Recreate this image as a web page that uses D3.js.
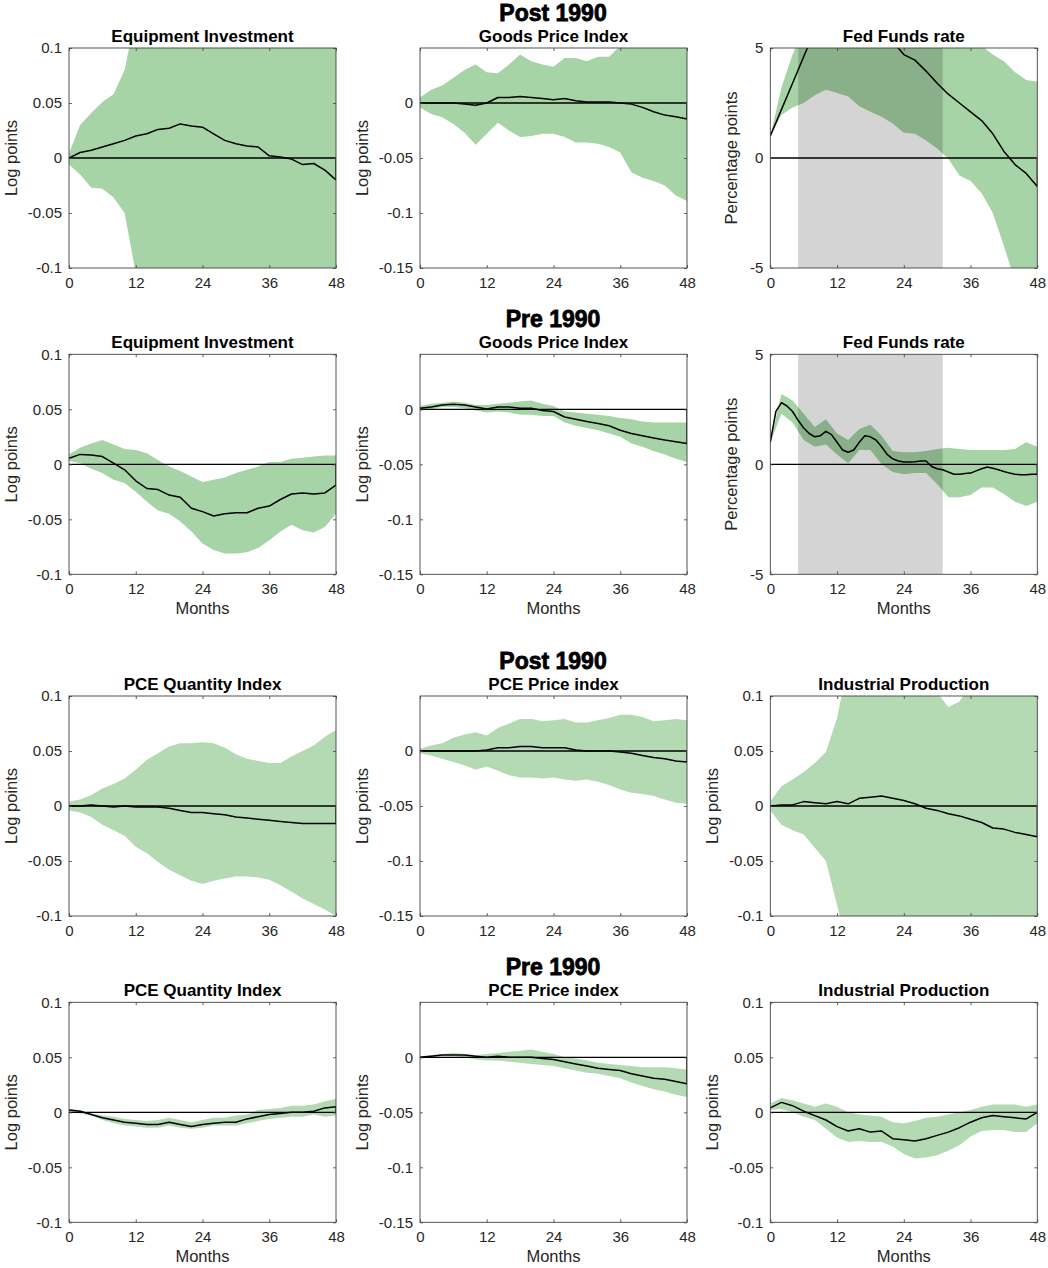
<!DOCTYPE html>
<html>
<head>
<meta charset="utf-8">
<script src="https://cdn.jsdelivr.net/npm/d3@7"></script>
<style>
  body { margin: 0; background: #fff; }
  text { font-family: "Liberation Sans", Arial, Helvetica, sans-serif; }
</style>
</head>
<body>
<svg id="chart" width="1048" height="1268"></svg>
<script>
// month grids
var months1 = d3.range(0, 49, 1);
var months2 = d3.range(0, 49, 2);

// ---- Post 1990, Equipment Investment
var eqPostLine = [0, .005, .007, .01, .013, .016, .02, .022, .026, .027, .031, .029, .028, .022, .016, .013, .011, .01, .002, .001, -.001, -.006, -.005, -.011, -.02];
var eqPostHi = [.004, .03, .041, .051, .058, .08, .13, .15, .15, .15, .15, .15, .15, .15, .15, .15, .15, .15, .15, .15, .15, .15, .15, .15, .15];
var eqPostLo = [-.006, -.015, -.027, -.028, -.036, -.05, -.105, -.15, -.15, -.15, -.15, -.15, -.15, -.15, -.15, -.15, -.15, -.15, -.15, -.15, -.15, -.15, -.15, -.15, -.15];

// ---- Post 1990, Goods Price Index
var goodsPostLine = [0, 0, 0, 0, -.001, -.002, 0, .005, .005, .006, .005, .004, .003, .004, .002, .001, .001, .001, 0, -.001, -.004, -.008, -.011, -.0125, -.0145];
var goodsPostHi = [.005, .012, .016, .023, .03, .035, .028, .027, .035, .044, .038, .035, .033, .041, .041, .038, .042, .042, .052, .06, .07, .08, .08, .08, .08];
var goodsPostLo = [-.004, -.01, -.013, -.019, -.027, -.038, -.028, -.018, -.025, -.031, -.03, -.028, -.028, -.031, -.036, -.036, -.037, -.04, -.045, -.063, -.068, -.071, -.075, -.084, -.089];

// ---- Post 1990, Fed Funds rate
var fedPostLine = [1, 2.2, 3.4, 4.6, 5.8, 6.5, 6.8, 6.8, 6.5, 6.2, 5.8, 5.3, 4.7, 4.45, 3.95, 3.4, 2.9, 2.5, 2.1, 1.7, 1.1, 0.3, -0.3, -0.7, -1.3];
var fedPostHi = [1, 3.2, 4.7, 6, 7, 7.5, 8, 8, 8, 8, 8, 8, 8, 7.5, 7, 6.5, 6.2, 6, 5.8, 5.1, 4.7, 4.4, 3.9, 3.55, 3.47];
var fedPostLo = [1, 1.95, 2.3, 2.5, 2.85, 3.1, 2.95, 2.8, 2.35, 2.1, 1.87, 1.57, 1.15, 1.1, 0.8, 0.43, -0.03, -0.8, -1.05, -1.6, -2.5, -4.0, -5.6, -6, -6.5];

// ---- Pre 1990, Equipment Investment
var eqPreLine = [.0055, .009, .0085, .007, .001, -.005, -.015, -.022, -.023, -.028, -.03, -.04, -.043, -.047, -.045, -.044, -.044, -.04, -.038, -.032, -.027, -.026, -.027, -.026, -.019];
var eqPreHi = [.009, .015, .019, .022, .018, .014, .013, .01, .004, -.002, -.006, -.011, -.016, -.014, -.012, -.008, -.005, -.002, .002, .002, .005, .006, .007, .008, .008];
var eqPreLo = [.003, .001, -.004, -.008, -.014, -.017, -.025, -.034, -.042, -.045, -.052, -.061, -.072, -.078, -.081, -.081, -.08, -.076, -.069, -.061, -.055, -.06, -.062, -.057, -.045];

// ---- Pre 1990, Goods Price Index
var goodsPreLine = [.001, .002, .004, .0045, .004, .002, .0003, .002, .002, .001, .001, -.001, -.002, -.007, -.009, -.011, -.013, -.015, -.019, -.022, -.024, -.026, -.028, -.0295, -.031];
var goodsPreHi = [.003, .005, .006, .007, .006, .004, .004, .005, .006, .007, .008, .005, .003, -.002, -.003, -.004, -.005, -.006, -.008, -.009, -.011, -.012, -.012, -.012, -.012];
var goodsPreLo = [-.001, 0, .002, .002, .001, -.001, -.003, -.002, -.003, -.005, -.005, -.006, -.006, -.012, -.015, -.017, -.019, -.022, -.025, -.031, -.034, -.038, -.041, -.045, -.048];

// ---- Pre 1990, Fed Funds rate (monthly line)
var fedPreLine = [1.0, 2.4, 2.8, 2.65, 2.4, 2.0, 1.65, 1.4, 1.25, 1.3,
                  1.5, 1.35, 1.0, 0.65, 0.55, 0.65, 1.0, 1.3, 1.25, 1.1,
                  0.8, 0.45, 0.25, 0.15, 0.1, 0.1, 0.12, 0.15, 0.15, -0.1,
                  -0.2, -0.25, -0.35, -0.45, -0.45, -0.42, -0.4, -0.3, -0.2, -0.12,
                  -0.18, -0.25, -0.33, -0.4, -0.45, -0.48, -0.48, -0.45, -0.45];
var fedPreHi = [1.0, 3.2, 2.9, 2.3, 1.7, 2.05, 1.4, 1.1, 1.6, 1.8, 1.3, 0.6, 0.55, 0.55, 0.6, 0.7, 0.75, 0.7, 0.65, 0.65, 0.65, 0.65, 0.7, 1.0, 0.8];
var fedPreLo = [1.0, 2.3, 1.9, 1.1, 0.8, 0.9, 0.45, 0.05, 0.65, 0.65, 0.0, -0.35, -0.45, -0.4, -0.4, -0.9, -1.5, -1.5, -1.4, -1.05, -1.05, -1.35, -1.7, -1.9, -1.7];

// ---- Post 1990, PCE Quantity Index
var pceQPostLine = [0, 0, .001, 0, -.001, 0, -.001, -.001, -.001, -.002, -.004, -.006, -.006, -.007, -.008, -.01, -.011, -.012, -.013, -.014, -.015, -.016, -.016, -.016, -.016];
var pceQPostHi = [.004, .006, .01, .016, .02, .025, .033, .042, .048, .054, .057, .057, .058, .057, .053, .047, .043, .041, .039, .039, .045, .05, .055, .063, .069];
var pceQPostLo = [-.004, -.006, -.01, -.017, -.022, -.027, -.037, -.043, -.051, -.058, -.063, -.068, -.071, -.068, -.066, -.064, -.064, -.065, -.067, -.072, -.078, -.084, -.089, -.094, -.1];

// ---- Post 1990, PCE Price index
var pcePPostLine = [0, 0, 0, 0, 0, 0, .001, .003, .003, .004, .004, .003, .003, .003, .001, 0, 0, 0, -.001, -.002, -.004, -.006, -.007, -.009, -.01];
var pcePPostHi = [.002, .005, .007, .012, .015, .017, .014, .021, .025, .029, .029, .027, .028, .029, .026, .026, .028, .03, .033, .033, .031, .027, .028, .029, .028];
var pcePPostLo = [-.002, -.004, -.007, -.01, -.013, -.017, -.014, -.018, -.022, -.024, -.024, -.025, -.024, -.026, -.027, -.026, -.028, -.031, -.035, -.038, -.039, -.041, -.044, -.047, -.048];

// ---- Post 1990, Industrial Production
var ipPostLine = [0, .001, .001, .004, .003, .002, .004, .002, .007, .008, .009, .007, .005, .002, -.002, -.004, -.007, -.009, -.012, -.015, -.02, -.021, -.024, -.026, -.028];
var ipPostHi = [.004, .018, .024, .031, .039, .049, .08, .13, .15, .15, .15, .15, .15, .15, .12, .103, .09, .095, .11, .13, .15, .15, .15, .15, .15];
var ipPostLo = [-.004, -.017, -.022, -.026, -.038, -.05, -.09, -.13, -.15, -.15, -.15, -.15, -.15, -.15, -.15, -.15, -.15, -.15, -.15, -.15, -.15, -.15, -.15, -.15, -.15];

// ---- Pre 1990, PCE Quantity Index
var pceQPreLine = [.002, .001, -.002, -.005, -.007, -.009, -.01, -.011, -.011, -.009, -.011, -.013, -.011, -.01, -.009, -.009, -.006, -.004, -.002, -.001, 0, 0, .001, .004, .005];
var pceQPreHi = [.003, .002, -.001, -.003, -.004, -.006, -.007, -.008, -.007, -.005, -.007, -.009, -.007, -.005, -.005, -.003, -.002, .002, .003, .004, .006, .006, .007, .01, .012];
var pceQPreLo = [0, -.001, -.003, -.007, -.01, -.012, -.013, -.014, -.014, -.012, -.014, -.015, -.014, -.012, -.012, -.012, -.01, -.008, -.006, -.005, -.004, -.004, -.002, -.004, -.003];

// ---- Pre 1990, PCE Price index
var pcePPreLine = [0, .001, .002, .002, .002, .001, 0, .001, 0, 0, 0, -.001, -.002, -.004, -.006, -.008, -.01, -.011, -.012, -.015, -.017, -.019, -.02, -.022, -.024];
var pcePPreHi = [.001, .002, .003, .004, .003, .002, .003, .004, .005, .006, .007, .005, .003, 0, -.001, -.003, -.005, -.006, -.007, -.008, -.009, -.009, -.009, -.01, -.011];
var pcePPreLo = [-.001, 0, .001, .001, 0, -.002, -.003, -.003, -.004, -.005, -.006, -.007, -.008, -.01, -.012, -.014, -.015, -.017, -.019, -.023, -.026, -.029, -.031, -.034, -.036];

// ---- Pre 1990, Industrial Production
var ipPreLine = [.004, .009, .006, .001, -.003, -.007, -.013, -.017, -.015, -.018, -.017, -.024, -.025, -.026, -.024, -.021, -.018, -.014, -.009, -.005, -.003, -.004, -.005, -.006, 0];
var ipPreHi = [.008, .013, .011, .008, .005, .008, .005, 0, -.002, -.003, -.004, -.009, -.01, -.008, -.005, -.004, -.002, 0, .002, .005, .007, .007, .007, .005, .007];
var ipPreLo = [.002, .003, 0, -.004, -.007, -.015, -.023, -.027, -.026, -.027, -.027, -.031, -.038, -.042, -.041, -.039, -.035, -.03, -.022, -.017, -.016, -.016, -.018, -.018, -.01];

// tick labels
var xTicks = [0, 12, 24, 36, 48];
var logTicks = [-0.1, -0.05, 0, 0.05, 0.1];
var priceTicks = [-0.15, -0.1, -0.05, 0];
var fedTicks = [-5, 0, 5];
var shadeMonths = [5, 31];

var headers = [
  {row: 0, text: "Post 1990"}, {row: 1, text: "Pre 1990"},
  {row: 2, text: "Post 1990"}, {row: 3, text: "Pre 1990"}
];

var panels = [
  {row: 0, col: 0, title: "Equipment Investment", kind: "log", line: eqPostLine, hi: eqPostHi, lo: eqPostLo},
  {row: 0, col: 1, title: "Goods Price Index", kind: "price", line: goodsPostLine, hi: goodsPostHi, lo: goodsPostLo},
  {row: 0, col: 2, title: "Fed Funds rate", kind: "fed", line: fedPostLine, hi: fedPostHi, lo: fedPostLo},
  {row: 1, col: 0, title: "Equipment Investment", kind: "log", line: eqPreLine, hi: eqPreHi, lo: eqPreLo, months: true},
  {row: 1, col: 1, title: "Goods Price Index", kind: "price", line: goodsPreLine, hi: goodsPreHi, lo: goodsPreLo, months: true},
  {row: 1, col: 2, title: "Fed Funds rate", kind: "fed", line: fedPreLine, lineX: months1, hi: fedPreHi, lo: fedPreLo, months: true},
  {row: 2, col: 0, title: "PCE Quantity Index", kind: "log", line: pceQPostLine, hi: pceQPostHi, lo: pceQPostLo},
  {row: 2, col: 1, title: "PCE Price index", kind: "price", line: pcePPostLine, hi: pcePPostHi, lo: pcePPostLo},
  {row: 2, col: 2, title: "Industrial Production", kind: "log", line: ipPostLine, hi: ipPostHi, lo: ipPostLo},
  {row: 3, col: 0, title: "PCE Quantity Index", kind: "log", line: pceQPreLine, hi: pceQPreHi, lo: pceQPreLo, months: true},
  {row: 3, col: 1, title: "PCE Price index", kind: "price", line: pcePPreLine, hi: pcePPreHi, lo: pcePPreLo, months: true},
  {row: 3, col: 2, title: "Industrial Production", kind: "log", line: ipPreLine, hi: ipPreHi, lo: ipPreLo, months: true}
];

// layout
var colLeft = [69, 420, 770.3];
var rowTop = [48, 354.3, 696, 1002.3];
var pw = 267, ph = 220;

var svg = d3.select("#chart");

headers.forEach(function(h) {
  svg.append("text")
    .attr("x", 553).attr("y", rowTop[h.row] - 27)
    .attr("text-anchor", "middle")
    .attr("font-size", 23).attr("font-weight", "bold")
    .attr("stroke", "#000").attr("stroke-width", 0.8)
    .text(h.text);
});

panels.forEach(function(p, i) {
  var left = colLeft[p.col], top = rowTop[p.row];
  var g = svg.append("g").attr("transform", "translate(" + left + "," + top + ")");

  var x = d3.scaleLinear().domain([0, 48]).range([0, pw]);
  var ydom = p.kind == "log" ? [-0.1, 0.1] : p.kind == "price" ? [-0.15, 0.05] : [-5, 5];
  var yticks = p.kind == "log" ? logTicks : p.kind == "price" ? priceTicks : fedTicks;
  var y = d3.scaleLinear().domain(ydom).range([ph, 0]);
  var green = p.row < 2 ? "#a6d4a6" : "#b3dab3";

  g.append("clipPath").attr("id", "clip" + i)
    .append("rect").attr("width", pw).attr("height", ph);
  var plot = g.append("g").attr("clip-path", "url(#clip" + i + ")");

  var band = months2.map(function(m, k) { return {m: m, lo: p.lo[k], hi: p.hi[k]}; });
  plot.append("path").datum(band)
    .attr("fill", green)
    .attr("d", d3.area().x(function(d) { return x(d.m); })
      .y0(function(d) { return y(d.lo); }).y1(function(d) { return y(d.hi); }));

  if (p.kind == "fed") {
    plot.append("rect")
      .attr("x", x(shadeMonths[0])).attr("width", x(shadeMonths[1]) - x(shadeMonths[0]))
      .attr("y", 0).attr("height", ph)
      .attr("fill", "#000").attr("fill-opacity", 0.17);
  }

  var lx = p.lineX || months2;
  var last = p.line[p.line.length - 1];
  // zero line plus closing segment at the last month
  plot.append("path")
    .datum([[0, 0], [48, 0], [48, last]])
    .attr("fill", "none").attr("stroke", "#000").attr("stroke-width", 1.3)
    .attr("d", d3.line().x(function(d) { return x(d[0]); }).y(function(d) { return y(d[1]); }));

  plot.append("path")
    .datum(p.line.map(function(v, k) { return [lx[k], v]; }))
    .attr("fill", "none").attr("stroke", "#000").attr("stroke-width", 1.5)
    .attr("stroke-linejoin", "round")
    .attr("d", d3.line().x(function(d) { return x(d[0]); }).y(function(d) { return y(d[1]); }));

  // axes: inward ticks on all four sides
  var axL = g.append("g").call(d3.axisLeft(y).tickValues(yticks).tickSize(-3).tickPadding(7)
    .tickFormat(function(v) { return String(v); }));
  var axR = g.append("g").attr("transform", "translate(" + pw + ",0)")
    .call(d3.axisRight(y).tickValues(yticks).tickSize(-3).tickFormat(""));
  var axB = g.append("g").attr("transform", "translate(0," + ph + ")")
    .call(d3.axisBottom(x).tickValues(xTicks).tickSize(-3).tickPadding(9));
  var axT = g.append("g")
    .call(d3.axisTop(x).tickValues(xTicks).tickSize(-3).tickFormat(""));
  [axL, axR, axB, axT].forEach(function(a) {
    a.select(".domain").remove();
    a.selectAll("line").attr("stroke", "#404040").attr("stroke-width", 0.8);
    a.selectAll("text").attr("fill", "#262626").attr("font-size", 15)
      .attr("font-family", "'Liberation Sans', Arial, sans-serif");
  });

  g.append("rect").attr("width", pw).attr("height", ph)
    .attr("fill", "none").attr("stroke", "#404040").attr("stroke-width", 0.9);

  g.append("text")
    .attr("x", pw / 2).attr("y", -6)
    .attr("text-anchor", "middle").attr("font-size", 17).attr("font-weight", "bold")
    .attr("fill", "#000")
    .text(p.title);

  var yl = p.kind == "fed" ? "Percentage points" : "Log points";
  var off = p.kind == "fed" ? 33 : 52;
  g.append("text")
    .attr("transform", "translate(" + (-off) + "," + (ph / 2) + ") rotate(-90)")
    .attr("text-anchor", "middle").attr("font-size", 16.5).attr("fill", "#262626")
    .text(yl);

  if (p.months) {
    g.append("text")
      .attr("x", pw / 2).attr("y", ph + 40)
      .attr("text-anchor", "middle").attr("font-size", 16.5).attr("fill", "#262626")
      .text("Months");
  }
});
</script>
</body>
</html>
